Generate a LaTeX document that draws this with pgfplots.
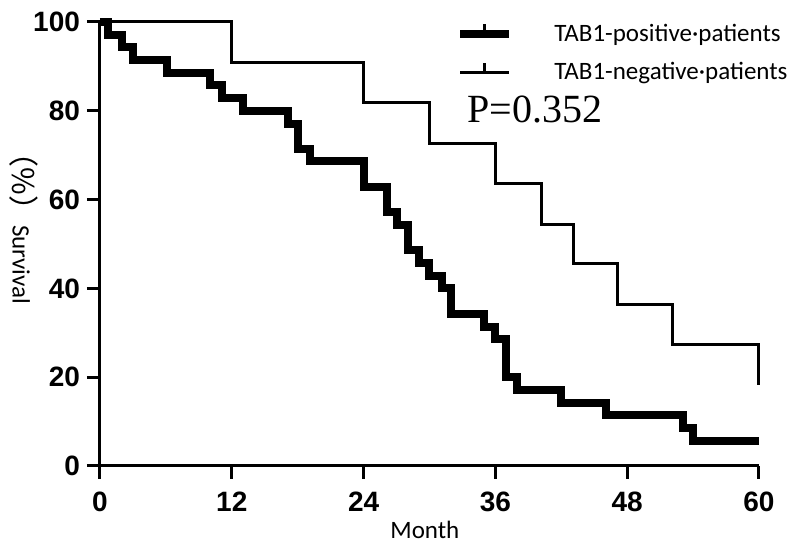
\documentclass[border=0pt]{standalone}
\usepackage{pgfplots}
\pgfplotsset{compat=1.18}
\usepackage{fontspec}
\setmainfont{Carlito}
\newfontfamily\arialfont{Liberation Sans}
\newfontfamily\timesfont{Liberation Serif}
\newfontfamily\cjk{Noto Sans CJK SC}
\begin{document}
\begin{tikzpicture}
\path[use as bounding box] (-50pt,-39.5pt) rectangle (350pt,233pt);
\begin{axis}[
  at={(0,0)}, anchor=south west,
  scale only axis, width=329.5pt, height=222pt,
  xmin=0, xmax=60, ymin=0, ymax=100,
  axis x line=bottom, axis y line=left,
  axis line style={-, line width=1.5pt},
  xtick={0,12,24,36,48,60}, ytick={0,20,40,60,80,100},
  tick align=outside, major tick length=6.5pt,
  tick style={line width=1.5pt, black},
  /pgf/number format/assume math mode=true,
  ticklabel style={font=\arialfont\bfseries\fontsize{14pt}{14pt}\selectfont},
  xticklabel style={yshift=-3pt},
  clip=false,
  legend cell align=left,
  legend style={draw=none, fill=none, at={(rel axis cs:0.540,1.0)}, anchor=north west,
    font=\fontsize{12.5pt}{15pt}\selectfont, row sep=8.5pt, column sep=20.5pt,
    inner sep=0pt, nodes={inner sep=0pt}},
  legend image code/.code={
    \draw[#1] (0pt,0pt) -- (24.5pt,0pt);
    \draw[#1, line width=1.5pt] (12.25pt,0pt) -- (12.25pt,5pt);
  },
]
\addplot[const plot, black, line width=4pt] coordinates {
(0,100) (0.7,97.1) (2,94.3) (3,91.4) (6.1,88.6) (10,85.7) (11.1,82.9) (13,80)
(17.1,77.1) (18,71.4) (19.1,68.6) (24,62.9) (26.1,57.1) (27,54.3) (28,48.6)
(29,45.7) (30,42.9) (31.1,40) (32,34.3) (35,31.4) (36,28.6) (37,20) (38,17.1)
(42,14.3) (46.1,11.4) (53.1,8.6) (54,5.7) (60,5.7)};
\addlegendentry{TAB1-positive·patients}
\addplot[const plot, black, line width=1.5pt] coordinates {
(0,100) (12,90.9) (24,81.8) (30,72.7) (36,63.6) (40.2,54.5) (43.1,45.5)
(47.1,36.4) (52.1,27.3) (60,18.2)};
\addlegendentry{TAB1-negative·patients}
\node[font=\timesfont\fontsize{20pt}{20pt}\selectfont] at (axis cs:39.6,80.2) {P=0.352};
\node[font=\fontsize{12.5pt}{12.5pt}\selectfont] at (rel axis cs:0.493,-0.144) {Month};
\node[rotate=-90] at (rel axis cs:-0.1153,0.552) {{\cjk\fontsize{15pt}{15pt}\selectfont （\%）}{\fontsize{12.5pt}{12.5pt}\selectfont Survival}};
\end{axis}
\end{tikzpicture}
\end{document}
